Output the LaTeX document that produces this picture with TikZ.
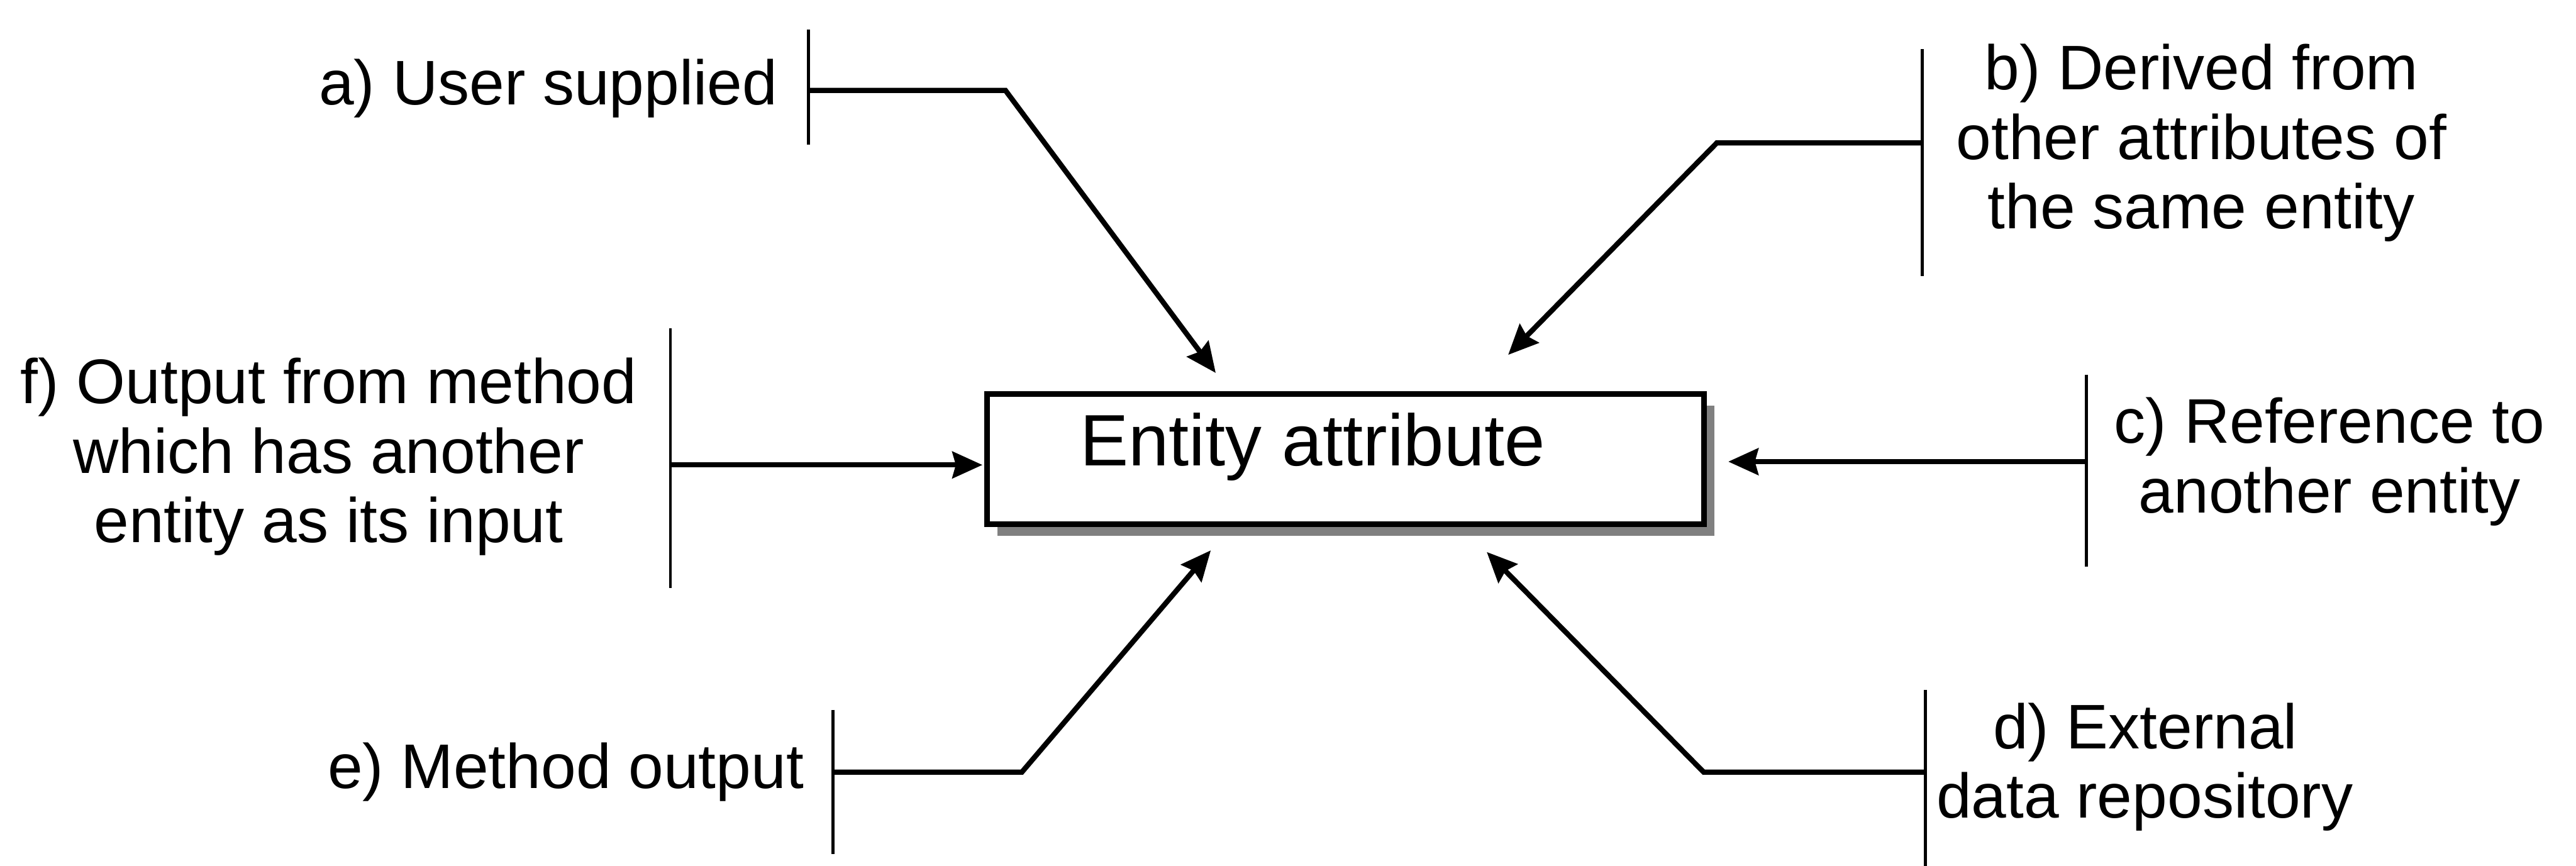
\documentclass[tikz,border=0pt]{standalone}
\usepackage{fontspec}
\setmainfont{Liberation Sans}
\usetikzlibrary{arrows.meta,shadows}
\begin{document}
\begin{tikzpicture}[x=0.01cm,y=-0.01cm,
  lbl/.style={font=\fontsize{10.9}{12}\selectfont, align=center, inner sep=0pt},
  bar/.style={line width=0.5pt},
  conn/.style={line width=0.9pt, line join=miter,
    -{Stealth[length=5.2pt,width=4.6pt,inset=0.6pt]}},
  entbox/.style={draw, line width=1pt, fill=white, minimum width=4.36cm, minimum height=0.79cm,
    inner sep=0pt, drop shadow={shadow xshift=1.8pt, shadow yshift=-2pt, fill=black!50, opacity=1}},
  enttext/.style={font=\fontsize{12.6}{14}\selectfont, inner sep=0pt}
]
\useasboundingbox[fill=white] (0,0) rectangle (1568,527);

% central entity box with its caption
\node[entbox] (ent) at (819,279.5) {};
\node[enttext] (entlbl) at (799,272) {Entity attribute};

% source labels
\node[lbl, anchor=east] (la) at (474,54) {a) User supplied};
\node[lbl] (lb) at (1340,87) {b) Derived from\\other attributes of\\the same entity};
\node[lbl] (lc) at (1418,281) {c) Reference to\\another entity};
\node[lbl, align=left, anchor=west] (ld) at (1178,467) {\hspace*{0.9em}d) External\\data repository};
\node[lbl, anchor=east] (le) at (490,470) {e) Method output};
\node[lbl] (lf) at (200,278) {f) Output from method\\which has another\\entity as its input};

% vertical bars at the start of each connector
\coordinate (aT) at (492,18);   \coordinate (aB) at (492,88);   \coordinate (aS) at (492,55);
\coordinate (bT) at (1170,30);  \coordinate (bB) at (1170,168); \coordinate (bS) at (1170,87);
\coordinate (cT) at (1270,228); \coordinate (cB) at (1270,345); \coordinate (cS) at (1270,281);
\coordinate (dT) at (1172,420); \coordinate (dB) at (1172,527); \coordinate (dS) at (1172,470);
\coordinate (eT) at (507,432);  \coordinate (eB) at (507,520);  \coordinate (eS) at (507,470);
\coordinate (fT) at (408,200);  \coordinate (fB) at (408,358);  \coordinate (fS) at (408,283);
\foreach \k in {a,b,c,d,e,f} \draw[bar] (\k T) -- (\k B);

% bends and arrow tips
\coordinate (aK) at (612,55);   \coordinate (aE) at (740,227);
\coordinate (bK) at (1045,87);  \coordinate (bE) at (918,216);
\coordinate (cE) at (1052,281);
\coordinate (dK) at (1037,470); \coordinate (dE) at (905,336);
\coordinate (eK) at (622,470);  \coordinate (eE) at (737,335);
\coordinate (fE) at (598,283);

\draw[conn] (aS) -- (aK) -- (aE);
\draw[conn] (bS) -- (bK) -- (bE);
\draw[conn] (cS) -- (cE);
\draw[conn] (dS) -- (dK) -- (dE);
\draw[conn] (eS) -- (eK) -- (eE);
\draw[conn] (fS) -- (fE);
\end{tikzpicture}
\end{document}
